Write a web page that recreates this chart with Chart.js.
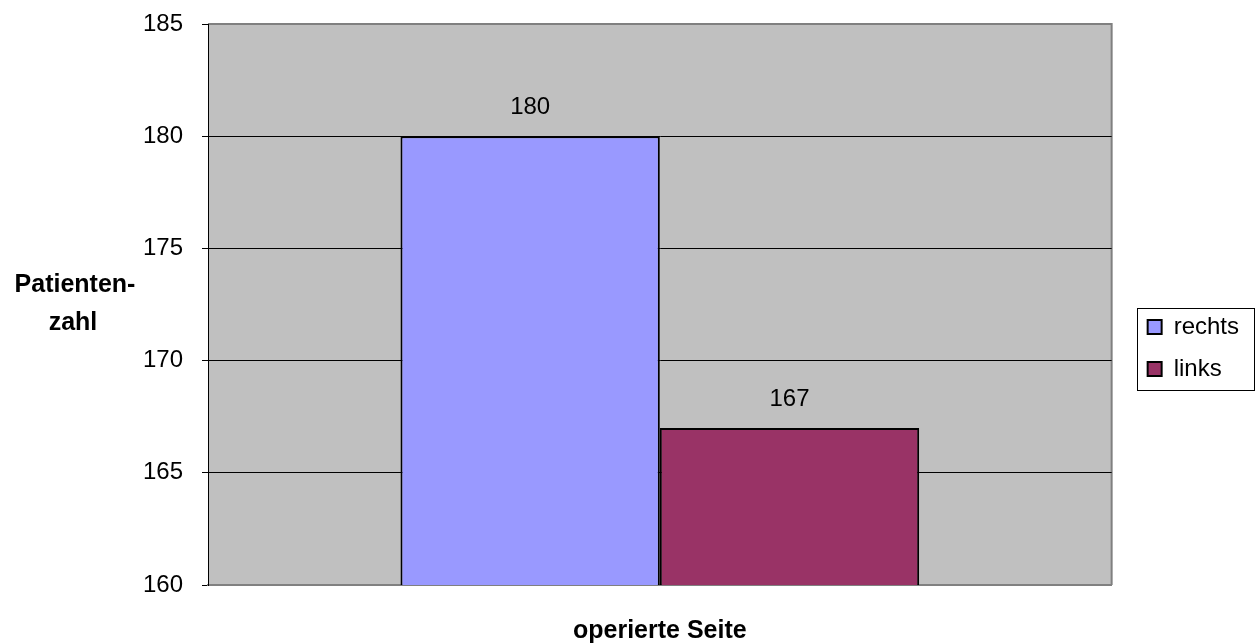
<!DOCTYPE html>
<html>
<head>
<meta charset="utf-8">
<script src="https://cdn.jsdelivr.net/npm/chart.js@4"></script>
<style>
  html, body { margin: 0; padding: 0; background: #fff; }
  #wrap { width: 1257px; height: 644px; }
</style>
</head>
<body>
<div id="wrap"><canvas id="seiteChart" width="1257" height="644"></canvas></div>
<script>
const categories = ["operierte Seite"];
const seriesNames = ["rechts", "links"];
const rechtsValues = [180];
const linksValues = [167];
const yTicks = [160, 165, 170, 175, 180, 185];

const FONT = "'Liberation Sans', Arial, sans-serif";

// grey plot background + grey top/right frame
const plotBack = {
    id: "plotBack",
    beforeDraw(chart) {
        const { ctx, chartArea: a } = chart;
        ctx.save();
        ctx.fillStyle = "#c0c0c0";
        ctx.fillRect(a.left, a.top, a.right - a.left, a.bottom - a.top);
        ctx.strokeStyle = "#808080";
        ctx.lineWidth = 2;
        ctx.beginPath();
        ctx.moveTo(a.left, a.top);
        ctx.lineTo(a.right, a.top);
        ctx.lineTo(a.right, a.bottom);
        ctx.stroke();
        ctx.restore();
    }
};

// value labels above bars
const barLabels = {
    id: "barLabels",
    afterDatasetsDraw(chart) {
        const { ctx } = chart;
        ctx.save();
        ctx.font = "24px " + FONT;
        ctx.fillStyle = "#000";
        ctx.textAlign = "center";
        ctx.textBaseline = "middle";
        chart.data.datasets.forEach((ds, i) => {
            chart.getDatasetMeta(i).data.forEach((bar, j) => {
                ctx.fillText(String(ds.data[j]), bar.x, bar.y - 29);
            });
        });
        ctx.restore();
    }
};

// horizontal y axis title on the left
const yTitle = {
    id: "yTitle",
    afterDraw(chart) {
        const { ctx, chartArea: a } = chart;
        const mid = (a.top + a.bottom) / 2;
        ctx.save();
        ctx.font = "bold 25px " + FONT;
        ctx.fillStyle = "#000";
        ctx.textAlign = "center";
        ctx.textBaseline = "middle";
        ctx.fillText("Patienten-", 75, mid - 19);
        ctx.fillText("zahl", 73, mid + 19);
        ctx.restore();
    }
};

// frame around the legend
const legendFrame = {
    id: "legendFrame",
    afterDraw(chart) {
        const boxes = chart.legend && chart.legend.legendHitBoxes;
        if (!boxes || !boxes.length) return;
        const l = Math.min(...boxes.map(b => b.left)) - 11;
        const t = Math.min(...boxes.map(b => b.top)) - 7;
        const r = Math.max(...boxes.map(b => b.left + b.width)) + 15;
        const bt = Math.max(...boxes.map(b => b.top + b.height)) + 9;
        const { ctx } = chart;
        ctx.save();
        ctx.strokeStyle = "#000";
        ctx.lineWidth = 1;
        ctx.strokeRect(Math.round(l) + 0.5, Math.round(t) + 0.5, Math.round(r - l), Math.round(bt - t));
        ctx.restore();
    }
};

new Chart(document.getElementById("seiteChart"), {
    type: "bar",
    data: {
        labels: categories,
        datasets: [
            {
                label: seriesNames[0],
                data: rechtsValues,
                backgroundColor: "#9999ff",
                borderColor: "#000",
                borderWidth: 2
            },
            {
                label: seriesNames[1],
                data: linksValues,
                backgroundColor: "#993366",
                borderColor: "#000",
                borderWidth: 2
            }
        ]
    },
    options: {
        responsive: false,
        animation: false,
        categoryPercentage: 0.574,
        barPercentage: 1,
        layout: { padding: { top: 24, right: 8, bottom: 0, left: 0 } },
        plugins: {
            legend: {
                position: "right",
                // empty title only pushes the items down a little
                title: {
                    display: true,
                    text: "",
                    font: { size: 11, lineHeight: 1 },
                    padding: 8.5
                },
                labels: {
                    color: "#000",
                    font: { family: FONT, size: 24 },
                    boxWidth: 14,
                    boxHeight: 14,
                    padding: 18
                }
            },
            tooltip: { enabled: false }
        },
        scales: {
            x: {
                grid: { display: false },
                border: { color: "#808080", width: 2 },
                ticks: { display: false },
                title: {
                    display: true,
                    text: categories[0],
                    color: "#000",
                    font: { family: FONT, size: 25, weight: "bold", lineHeight: 1 },
                    padding: { top: 0, bottom: 0 }
                },
                afterFit(s) { s.height = 59; }
            },
            y: {
                min: yTicks[0],
                max: yTicks[yTicks.length - 1],
                afterBuildTicks(s) { s.ticks = yTicks.map(v => ({ value: v })); },
                grid: {
                    color: c => (c.tick && (c.tick.value === 185 || c.tick.value === 160)) ? "#808080" : "#000",
                    tickColor: "#000",
                    tickLength: 6
                },
                border: { color: "#000", width: 1 },
                ticks: {
                    color: "#000",
                    font: { family: FONT, size: 24 },
                    padding: 19
                },
                afterFit(s) {
                    s.width = 208;
                    s.paddingTop = 0;
                    s.paddingBottom = 0;
                }
            },
            gap: {
                type: "linear",
                position: "right",
                display: true,
                grid: { display: false },
                border: { display: false },
                ticks: { display: false },
                afterFit(s) {
                    s.width = 18;
                    s.paddingTop = 0;
                    s.paddingBottom = 0;
                }
            }
        }
    },
    plugins: [plotBack, barLabels, yTitle, legendFrame]
});
</script>
</body>
</html>
